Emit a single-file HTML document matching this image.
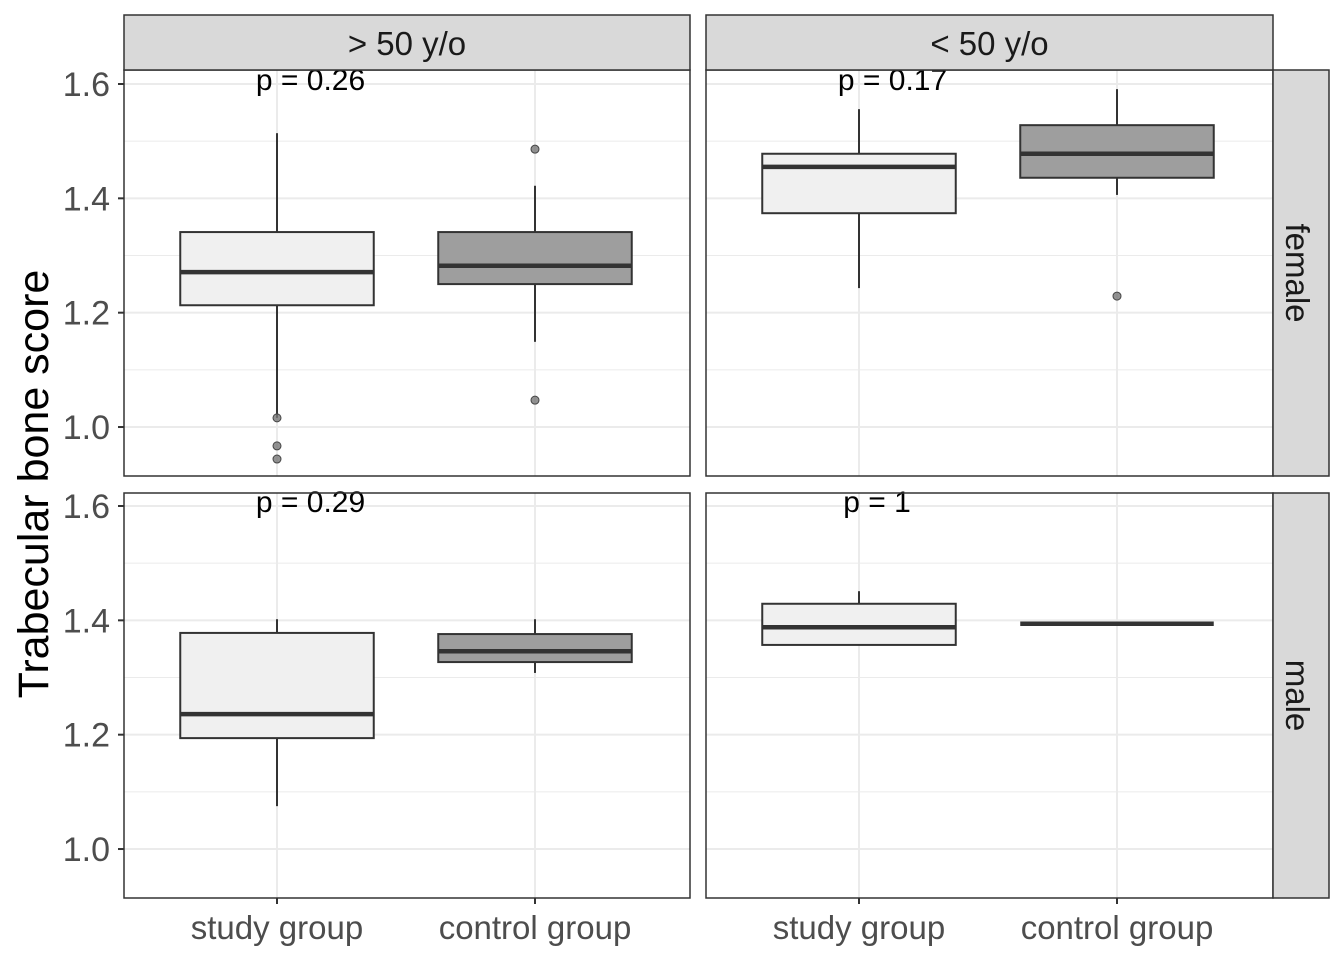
<!DOCTYPE html>
<html><head><meta charset="utf-8"><style>
html,body{margin:0;padding:0;background:#fff;}
svg{display:block;font-family:"Liberation Sans",sans-serif;}
</style></head><body>
<svg id="chart" width="1344" height="960" xmlns="http://www.w3.org/2000/svg"></svg>
<script>
const categories = ["study group","control group"];
const ageGroups = ["> 50 y/o","< 50 y/o"];
const sexes = ["female","male"];
const yTicks = [1.0,1.2,1.4,1.6];
const yMinor = [1.1,1.3,1.5];
const pLabels = ["p = 0.26","p = 0.17","p = 0.29","p = 1"];
const pLabelX = [1.13,1.13,1.13,1.07];
// per panel [TL, TR, BL, BR], per category: [lowWhisker, q1, median, q3, highWhisker]
const studyStats = [[1.016,1.213,1.271,1.341,1.514],[1.243,1.374,1.455,1.478,1.556],[1.075,1.194,1.236,1.378,1.402],[1.357,1.357,1.388,1.429,1.451]];
const controlStats = [[1.149,1.250,1.282,1.341,1.422],[1.406,1.436,1.478,1.528,1.591],[1.308,1.327,1.346,1.376,1.402],[1.394,1.394,1.394,1.394,1.394]];
const studyOutliers = [[1.016,0.967,0.944],[],[],[]];
const controlOutliers = [[1.486,1.047],[1.229],[],[]];

const NS="http://www.w3.org/2000/svg";
const svg=document.getElementById('chart');
function mk(tag,attrs,parent){const e=document.createElementNS(NS,tag);for(const k in attrs)e.setAttribute(k,attrs[k]);(parent||svg).appendChild(e);return e;}
const panelsX=[[124,690],[706,1273]];
const panelsY=[[70,476],[493,898]];
const ppu=571.7;
function yScale(v,row){const ref=row===0?84:506;return ref-(v-1.6)*ppu;}
function xScale(c,col){const x0=panelsX[col][0]+153;return x0+(c-1)*258;}

for(let row=0;row<2;row++)for(let col=0;col<2;col++){
  const p=row*2+col;
  const [x0,x1]=panelsX[col],[y0,y1]=panelsY[row];
  const g=mk('g',{});
  
  
  mk('rect',{x:x0,y:y0,width:x1-x0,height:y1-y0,fill:'#fff'},g);
  yMinor.forEach(v=>{const y=yScale(v,row);mk('line',{x1:x0,x2:x1,y1:y,y2:y,stroke:'#ebebeb','stroke-width':1},g);});
  yTicks.forEach(v=>{const y=yScale(v,row);mk('line',{x1:x0,x2:x1,y1:y,y2:y,stroke:'#ebebeb','stroke-width':2},g);});
  [1,2].forEach(c=>{const x=xScale(c,col);mk('line',{x1:x,x2:x,y1:y0,y2:y1,stroke:'#ebebeb','stroke-width':2},g);});
  [[studyStats[p],studyOutliers[p],'#f0f0f0',1],[controlStats[p],controlOutliers[p],'#9e9e9e',2]].forEach(([s,outs,fill,c])=>{
    const cx=xScale(c,col),hw=96.75;
    const b=mk('g',{},g);
    
    
    mk('line',{x1:cx,x2:cx,y1:yScale(s[4],row),y2:yScale(s[3],row),stroke:'#333','stroke-width':2},b);
    mk('line',{x1:cx,x2:cx,y1:yScale(s[1],row),y2:yScale(s[0],row),stroke:'#333','stroke-width':2},b);
    mk('rect',{x:cx-hw,y:yScale(s[3],row),width:2*hw,height:Math.max(0,yScale(s[1],row)-yScale(s[3],row)),fill:fill,stroke:'#333','stroke-width':2},b);
    mk('line',{x1:cx-hw,x2:cx+hw,y1:yScale(s[2],row),y2:yScale(s[2],row),stroke:'#333','stroke-width':4.5},b);
    outs.forEach(o=>{const pt=mk('circle',{cx:cx,cy:yScale(o,row),r:4,fill:'#777','fill-opacity':0.8,stroke:'#444','stroke-width':1},b);
      
      });
  });
  const t=mk('text',{x:xScale(pLabelX[p],col),y:yScale(1.6,row)+6,'font-size':30,'text-anchor':'middle',fill:'#000'},g);
  t.textContent=pLabels[p];
  
  
  mk('rect',{x:x0,y:y0,width:x1-x0,height:y1-y0,fill:'none',stroke:'#333','stroke-width':1.5},g);
  if(col===0){yTicks.forEach(v=>{const y=yScale(v,row);mk('line',{x1:x0-6,x2:x0,y1:y,y2:y,stroke:'#333','stroke-width':2});
    const l=mk('text',{x:x0-14,y:y+12,'font-size':34,'text-anchor':'end',fill:'#4d4d4d'});l.textContent=v.toFixed(1);
    
    });}
  if(row===1){[1,2].forEach(c=>{const x=xScale(c,col);mk('line',{x1:x,x2:x,y1:y1,y2:y1+6,stroke:'#333','stroke-width':2});
    const l=mk('text',{x:x,y:939,'font-size':33,'text-anchor':'middle',fill:'#4d4d4d'});l.textContent=categories[c-1];
    
    });}
}
// strips
for(let col=0;col<2;col++){
  const [x0,x1]=panelsX[col];
  const s=mk('rect',{x:x0,y:15,width:x1-x0,height:55,fill:'#d9d9d9',stroke:'#333','stroke-width':1.5});
  
  
  const t=mk('text',{x:(x0+x1)/2,y:55,'font-size':33,'text-anchor':'middle',fill:'#1a1a1a'});t.textContent=ageGroups[col];
  
  
}
for(let row=0;row<2;row++){
  const [y0,y1]=panelsY[row];
  const s=mk('rect',{x:1273,y:y0,width:56,height:y1-y0,fill:'#d9d9d9',stroke:'#333','stroke-width':1.5});
  
  
  const cy=(y0+y1)/2;
  const t=mk('text',{x:1286,y:cy,'font-size':33,'text-anchor':'middle',fill:'#1a1a1a',transform:`rotate(90 1286 ${cy})`});t.textContent=sexes[row];
  
  
}
const yt=mk('text',{x:48,y:484,'font-size':43,'text-anchor':'middle',fill:'#000',transform:'rotate(-90 48 484)'});
yt.textContent='Trabecular bone score';


</script>
</body></html>
